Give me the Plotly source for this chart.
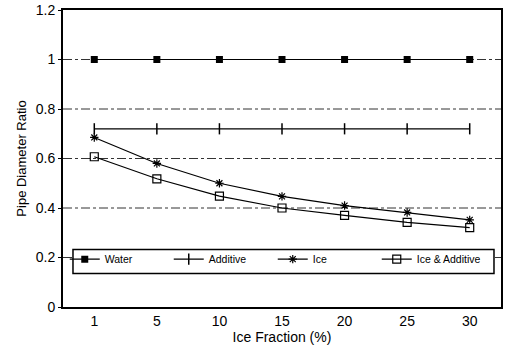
import plotly.graph_objects as go

categories = ["1", "5", "10", "15", "20", "25", "30"]
water = [1.0, 1.0, 1.0, 1.0, 1.0, 1.0, 1.0]
additive = [0.72, 0.72, 0.72, 0.72, 0.72, 0.72, 0.72]
ice = [0.685, 0.58, 0.50, 0.447, 0.41, 0.382, 0.352]
ice_additive = [0.607, 0.518, 0.448, 0.40, 0.37, 0.342, 0.321]
y_ticks = [0, 0.2, 0.4, 0.6, 0.8, 1.0, 1.2]
y_tick_text = ["0", "0.2", "0.4", "0.6", "0.8", "1", "1.2"]

font = "Liberation Sans, Arial, sans-serif"
fig = go.Figure()
fig.add_trace(go.Scatter(x=categories, y=water, name="Water", mode="lines+markers",
                         line=dict(color="black", width=1.2),
                         marker=dict(symbol="square", size=7, color="black")))
fig.add_trace(go.Scatter(x=categories, y=additive, name="Additive", mode="lines+markers",
                         line=dict(color="black", width=1.2),
                         marker=dict(symbol="line-ns", size=8, color="black",
                                     line=dict(color="black", width=1.5))))
fig.add_trace(go.Scatter(x=categories, y=ice, name="Ice", mode="lines+markers",
                         line=dict(color="black", width=1.2),
                         marker=dict(symbol="asterisk", size=7, color="black",
                                     line=dict(color="black", width=1.2))))
fig.add_trace(go.Scatter(x=categories, y=ice_additive, name="Ice & Additive", mode="lines+markers",
                         line=dict(color="black", width=1.2),
                         marker=dict(symbol="square-open", size=8, color="black",
                                     line=dict(color="black", width=1.2))))

# dash-dot grid lines at the inner tick values, then the legend box over them
shapes = [dict(type="line", xref="paper", yref="y", x0=0, x1=1, y0=v, y1=v,
               line=dict(color="#333", width=1, dash="dashdot"), layer="below")
          for v in y_ticks[1:-1]]
shapes.append(dict(type="rect", xref="paper", yref="paper", x0=0.0228, x1=0.984,
                   y0=0.113, y1=0.194, line=dict(color="black", width=1.5),
                   fillcolor="white", layer="below"))

fig.update_layout(
    width=505, height=349,
    margin=dict(l=63, r=4, t=10, b=42),
    paper_bgcolor="white", plot_bgcolor="white",
    font=dict(family=font, color="black", size=12),
    showlegend=True,
    legend=dict(orientation="h", x=0.004, y=0.21, xanchor="left", yanchor="top",
                borderwidth=0, bgcolor="rgba(0,0,0,0)",
                font=dict(size=10.5), entrywidth=59, entrywidthmode="pixels",
                tracegroupgap=0),
    shapes=shapes,
    xaxis=dict(type="category", range=[-0.5, 6.5], showgrid=False, automargin=False,
               showline=True, linecolor="black", linewidth=2, mirror=True,
               ticks="", tickfont=dict(size=14),
               title=dict(text="Ice Fraction (%)", font=dict(size=14), standoff=2)),
    yaxis=dict(range=[0, 1.2], tickvals=y_ticks, ticktext=y_tick_text,
               automargin=False, showgrid=False,
               showline=True, linecolor="black", linewidth=2, mirror=True,
               ticks="outside", ticklen=3, tickcolor="black", tickfont=dict(size=14),
               zeroline=False,
               title=dict(text="Pipe Diameter Ratio", font=dict(size=13), standoff=6)),
)

fig.write_html("out.html", config={"displayModeBar": False},
               post_script="document.body.style.margin='0px';")
